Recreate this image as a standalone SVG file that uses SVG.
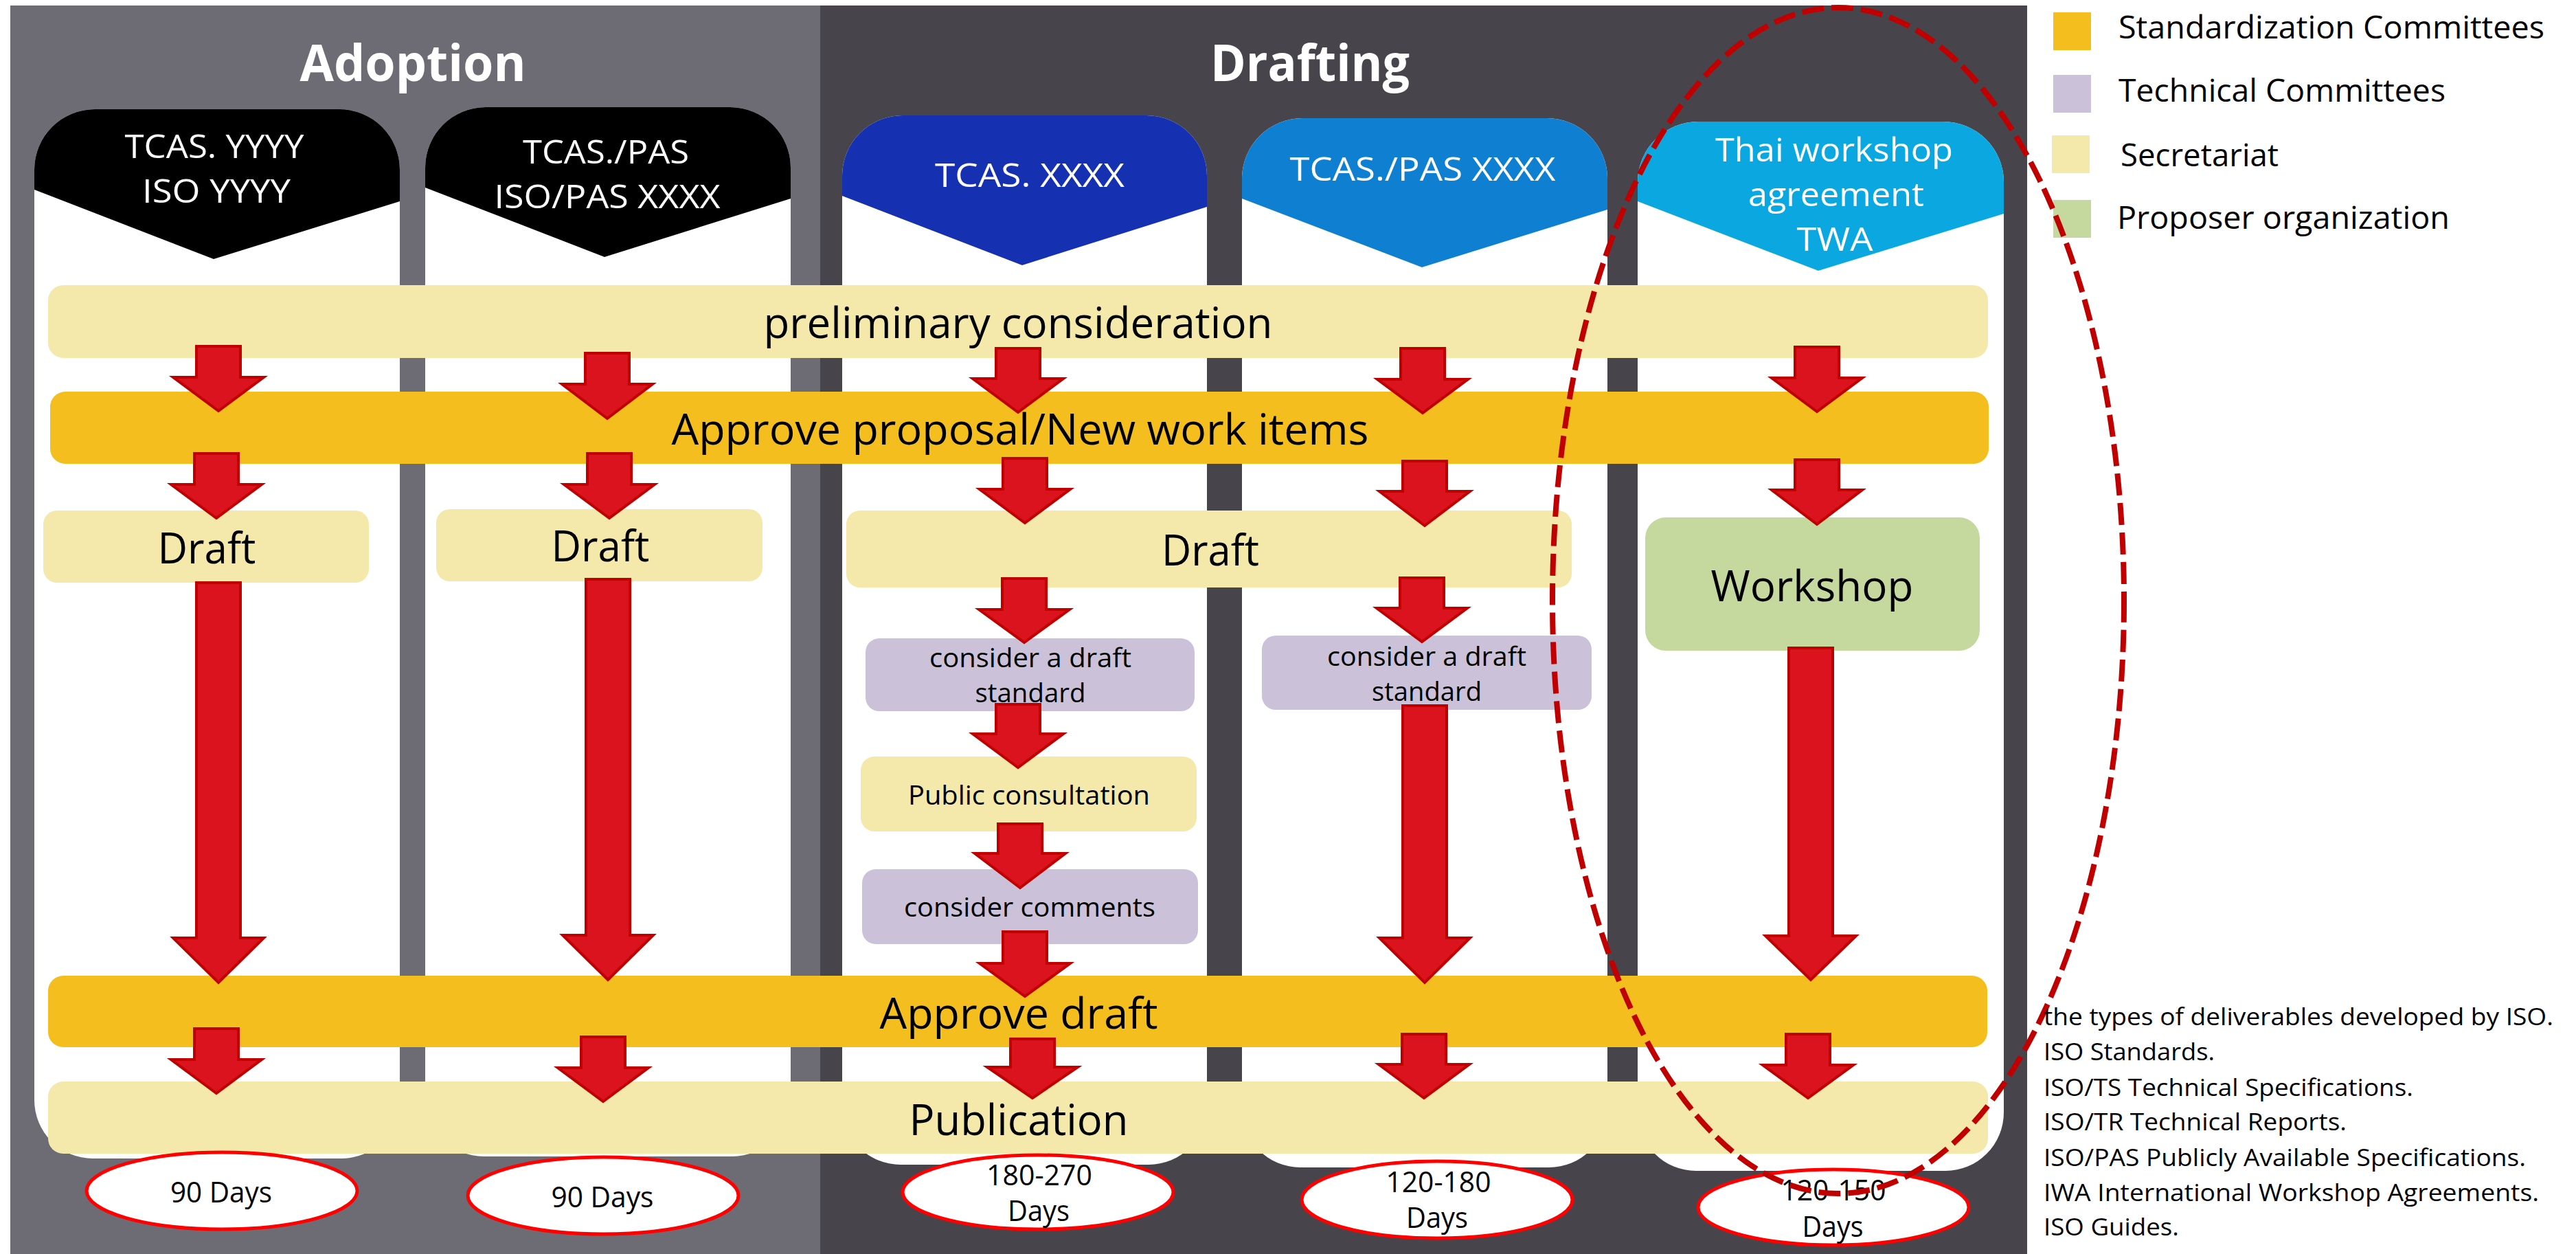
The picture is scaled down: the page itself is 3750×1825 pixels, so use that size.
<svg xmlns="http://www.w3.org/2000/svg" width="3750" height="1825" viewBox="0 0 3750 1825">
<style>
text{font-family:"Open Sans","Noto Sans",sans-serif;fill:#000}
.t{font-weight:700;font-size:74px;fill:#fff;text-anchor:middle}
.h{font-size:48px;fill:#fff;text-anchor:middle}
.lg{font-size:46px}
.bar{font-size:62px;text-anchor:middle}
.sm{font-size:38px;text-anchor:middle}
.dy{font-size:42px;text-anchor:middle}
.ls{font-size:35px}
.card{fill:#fff}
.sec{fill:#f4e8aa}
.sc{fill:#f4be1f}
.tc{fill:#cbc2da}
.po{fill:#c5d89d}
.arr{fill:#da131e;stroke:#c00000;stroke-width:4;stroke-linejoin:miter}
.days{fill:#fff;stroke:#ff0000;stroke-width:5}
</style>
<defs>
<path id="leg" d="M0 0h55v55h-55z"/>
</defs>
<rect width="3750" height="1825" fill="#fff"/>
<g id="panel-adoption">
<rect x="15" y="8" width="1179" height="1817" fill="#6d6b74"/>
<text class="t" x="601" y="118" textLength="329" lengthAdjust="spacingAndGlyphs">Adoption</text>
</g>
<g id="panel-drafting">
<rect x="1194" y="8" width="1757" height="1817" fill="#48444b"/>
<text class="t" x="1907" y="118" textLength="290" lengthAdjust="spacingAndGlyphs">Drafting</text>
</g>
<g id="col1">
<path class="card" d="M50 247A88 88 0 0 1 138 159H494A88 88 0 0 1 582 247V1601A85 85 0 0 1 497 1686H135A85 85 0 0 1 50 1601Z"/>
<path fill="#000" d="M50 247A88 88 0 0 1 138 159H494A88 88 0 0 1 582 247V293L311 377L50 276Z"/>
<text class="h" x="312" y="230" textLength="261" lengthAdjust="spacingAndGlyphs">TCAS. YYYY</text>
<text class="h" x="315" y="295" textLength="216" lengthAdjust="spacingAndGlyphs">ISO YYYY</text>
</g>
<g id="col2">
<path class="card" d="M619 244A88 88 0 0 1 707 156H1063A88 88 0 0 1 1151 244V1598A85 85 0 0 1 1066 1683H704A85 85 0 0 1 619 1598Z"/>
<path fill="#000" d="M619 244A88 88 0 0 1 707 156H1063A88 88 0 0 1 1151 244V289L880 374L619 273Z"/>
<text class="h" x="882" y="238" textLength="242" lengthAdjust="spacingAndGlyphs">TCAS./PAS</text>
<text class="h" x="884" y="303" textLength="329" lengthAdjust="spacingAndGlyphs">ISO/PAS XXXX</text>
</g>
<g id="col3">
<path class="card" d="M1226 256A88 88 0 0 1 1314 168H1669A88 88 0 0 1 1757 256V1610A85 85 0 0 1 1672 1695H1311A85 85 0 0 1 1226 1610Z"/>
<path fill="#1530b1" d="M1226 256A88 88 0 0 1 1314 168H1669A88 88 0 0 1 1757 256V301L1488 386L1226 285Z"/>
<text class="h" x="1499" y="272" textLength="276" lengthAdjust="spacingAndGlyphs">TCAS. XXXX</text>
</g>
<g id="col4">
<path class="card" d="M1808 260A88 88 0 0 1 1896 172H2252A88 88 0 0 1 2340 260V1614A85 85 0 0 1 2255 1699H1893A85 85 0 0 1 1808 1614Z"/>
<path fill="#0f7fd1" d="M1808 260A88 88 0 0 1 1896 172H2252A88 88 0 0 1 2340 260V305L2070 389L1808 289Z"/>
<text class="h" x="2071" y="263" textLength="387" lengthAdjust="spacingAndGlyphs">TCAS./PAS XXXX</text>
</g>
<g id="col5">
<path class="card" d="M2384 265A88 88 0 0 1 2472 177H2829A88 88 0 0 1 2917 265V1619A85 85 0 0 1 2832 1704H2469A85 85 0 0 1 2384 1619Z"/>
<path fill="#0aa7e1" d="M2384 265A88 88 0 0 1 2472 177H2829A88 88 0 0 1 2917 265V311L2647 394L2384 293Z"/>
<text class="h" x="2670" y="235" textLength="346" lengthAdjust="spacingAndGlyphs">Thai workshop</text>
<text class="h" x="2673" y="300" textLength="256" lengthAdjust="spacingAndGlyphs">agreement</text>
<text class="h" x="2671" y="365" textLength="111" lengthAdjust="spacingAndGlyphs">TWA</text>
</g>
<g id="legend">
<use href="#leg" class="sc" x="2989" y="18"/>
<use href="#leg" class="tc" x="2989" y="109"/>
<use href="#leg" class="sec" x="2987" y="197"/>
<use href="#leg" class="po" x="2989" y="291"/>
<text class="lg" x="3084" y="56" textLength="620" lengthAdjust="spacingAndGlyphs">Standardization Committees</text>
<text class="lg" x="3084" y="148" textLength="476" lengthAdjust="spacingAndGlyphs">Technical Committees</text>
<text class="lg" x="3087" y="242" textLength="230" lengthAdjust="spacingAndGlyphs">Secretariat</text>
<text class="lg" x="3082" y="333" textLength="484" lengthAdjust="spacingAndGlyphs">Proposer organization</text>
</g>
<g id="preliminary">
<rect class="sec" x="70" y="415" width="2824" height="106" rx="22"/>
<text class="bar" x="1482" y="492" textLength="741" lengthAdjust="spacingAndGlyphs">preliminary consideration</text>
</g>
<g id="approve-proposal">
<rect class="sc" x="73" y="570" width="2822" height="105" rx="22"/>
<text class="bar" x="1485" y="647" textLength="1015" lengthAdjust="spacingAndGlyphs">Approve proposal/New work items</text>
</g>
<g id="draft1">
<rect class="sec" x="63" y="743" width="474" height="105" rx="20"/>
<text class="bar" x="301" y="820" textLength="143" lengthAdjust="spacingAndGlyphs">Draft</text>
</g>
<g id="draft2">
<rect class="sec" x="635" y="741" width="475" height="105" rx="20"/>
<text class="bar" x="874" y="817" textLength="143" lengthAdjust="spacingAndGlyphs">Draft</text>
</g>
<g id="draft3">
<rect class="sec" x="1232" y="743" width="1056" height="112" rx="20"/>
<text class="bar" x="1762" y="823" textLength="142" lengthAdjust="spacingAndGlyphs">Draft</text>
</g>
<g id="workshop">
<rect class="po" x="2395" y="753" width="487" height="194" rx="30"/>
<text class="bar" x="2638" y="875" textLength="295" lengthAdjust="spacingAndGlyphs">Workshop</text>
</g>
<g id="consider3">
<rect class="tc" x="1260" y="929" width="479" height="106" rx="20"/>
<text class="sm" x="1500" y="971" textLength="294" lengthAdjust="spacingAndGlyphs">consider a draft</text>
<text class="sm" x="1500" y="1022" textLength="161" lengthAdjust="spacingAndGlyphs">standard</text>
</g>
<g id="consider4">
<rect class="tc" x="1837" y="925" width="480" height="108" rx="20"/>
<text class="sm" x="2077" y="969" textLength="290" lengthAdjust="spacingAndGlyphs">consider a draft</text>
<text class="sm" x="2077" y="1020" textLength="160" lengthAdjust="spacingAndGlyphs">standard</text>
</g>
<g id="public">
<rect class="sec" x="1253" y="1101" width="489" height="109" rx="20"/>
<text class="sm" x="1498" y="1171" textLength="352" lengthAdjust="spacingAndGlyphs">Public consultation</text>
</g>
<g id="comments">
<rect class="tc" x="1255" y="1265" width="489" height="109" rx="20"/>
<text class="sm" x="1499" y="1334" textLength="366" lengthAdjust="spacingAndGlyphs">consider comments</text>
</g>
<g id="approve-draft">
<rect class="sc" x="70" y="1420" width="2823" height="104" rx="22"/>
<text class="bar" x="1483" y="1497" textLength="405" lengthAdjust="spacingAndGlyphs">Approve draft</text>
</g>
<g id="publication">
<rect class="sec" x="70" y="1574" width="2824" height="105" rx="22"/>
<text class="bar" x="1483" y="1652" textLength="319" lengthAdjust="spacingAndGlyphs">Publication</text>
</g>
<g id="connectors">
<polygon class="arr" points="286,504 350,504 350,549 384,549 318,598 252,549 286,549"/>
<polygon class="arr" points="283,660 347,660 347,705 381,705 315,754 249,705 283,705"/>
<polygon class="arr" points="286,848 350,848 350,1365 384,1365 318,1430 252,1365 286,1365"/>
<polygon class="arr" points="283,1497 347,1497 347,1542 381,1542 315,1591 249,1542 283,1542"/>
<polygon class="arr" points="852,514 916,514 916,559 950,559 884,609 818,559 852,559"/>
<polygon class="arr" points="855,660 919,660 919,705 953,705 887,754 821,705 855,705"/>
<polygon class="arr" points="853,843 917,843 917,1361 951,1361 885,1426 819,1361 853,1361"/>
<polygon class="arr" points="846,1509 910,1509 910,1554 944,1554 878,1603 812,1554 846,1554"/>
<polygon class="arr" points="1450,507 1514,507 1514,551 1548,551 1482,600 1416,551 1450,551"/>
<polygon class="arr" points="1460,667 1524,667 1524,712 1558,712 1492,761 1426,712 1460,712"/>
<polygon class="arr" points="1459,842 1523,842 1523,887 1557,887 1491,935 1425,887 1459,887"/>
<polygon class="arr" points="1450,1025 1514,1025 1514,1068 1548,1068 1482,1117 1416,1068 1450,1068"/>
<polygon class="arr" points="1453,1199 1517,1199 1517,1242 1551,1242 1485,1292 1419,1242 1453,1242"/>
<polygon class="arr" points="1460,1356 1524,1356 1524,1402 1558,1402 1492,1450 1426,1402 1460,1402"/>
<polygon class="arr" points="1471,1512 1535,1512 1535,1553 1569,1553 1503,1598 1437,1553 1471,1553"/>
<polygon class="arr" points="2039,507 2103,507 2103,552 2137,552 2071,601 2005,552 2039,552"/>
<polygon class="arr" points="2042,671 2106,671 2106,715 2140,715 2074,765 2008,715 2042,715"/>
<polygon class="arr" points="2038,841 2102,841 2102,885 2136,885 2070,934 2004,885 2038,885"/>
<polygon class="arr" points="2042,1027 2106,1027 2106,1365 2140,1365 2074,1430 2008,1365 2042,1365"/>
<polygon class="arr" points="2041,1505 2105,1505 2105,1549 2139,1549 2073,1598 2007,1549 2041,1549"/>
<polygon class="arr" points="2613,505 2677,505 2677,550 2711,550 2645,599 2579,550 2613,550"/>
<polygon class="arr" points="2613,669 2677,669 2677,713 2711,713 2645,763 2579,713 2613,713"/>
<polygon class="arr" points="2604,943 2668,943 2668,1362 2702,1362 2636,1426 2570,1362 2604,1362"/>
<polygon class="arr" points="2600,1505 2664,1505 2664,1550 2698,1550 2632,1598 2566,1550 2600,1550"/>
</g>
<g id="days1">
<ellipse class="days" cx="323" cy="1733" rx="197" ry="56"/>
<text class="dy" x="322" y="1750" textLength="148" lengthAdjust="spacingAndGlyphs">90 Days</text>
</g>
<g id="days2">
<ellipse class="days" cx="878" cy="1740" rx="197" ry="56"/>
<text class="dy" x="877" y="1757" textLength="149" lengthAdjust="spacingAndGlyphs">90 Days</text>
</g>
<g id="days3">
<ellipse class="days" cx="1511" cy="1735" rx="197" ry="54"/>
<text class="dy" x="1513" y="1725" textLength="154" lengthAdjust="spacingAndGlyphs">180-270</text>
<text class="dy" x="1512" y="1777" textLength="90" lengthAdjust="spacingAndGlyphs">Days</text>
</g>
<g id="days4">
<ellipse class="days" cx="2092" cy="1746" rx="197" ry="56"/>
<text class="dy" x="2094" y="1735" textLength="153" lengthAdjust="spacingAndGlyphs">120-180</text>
<text class="dy" x="2092" y="1787" textLength="90" lengthAdjust="spacingAndGlyphs">Days</text>
</g>
<g id="days5">
<ellipse class="days" cx="2669" cy="1757" rx="197" ry="55"/>
<text class="dy" x="2669" y="1747" textLength="153" lengthAdjust="spacingAndGlyphs">120-150</text>
<text class="dy" x="2668" y="1800" textLength="89" lengthAdjust="spacingAndGlyphs">Days</text>
</g>
<g id="twa-highlight">
<ellipse cx="2676" cy="874" rx="416" ry="863" fill="none" stroke="#c00000" stroke-width="8" stroke-dasharray="32 11"/>
</g>
<g id="deliverables">
<text class="ls" x="2975" y="1492" textLength="742" lengthAdjust="spacingAndGlyphs">the types of deliverables developed by ISO.</text>
<text class="ls" x="2975" y="1543" textLength="249" lengthAdjust="spacingAndGlyphs">ISO Standards.</text>
<text class="ls" x="2975" y="1595" textLength="538" lengthAdjust="spacingAndGlyphs">ISO/TS Technical Specifications.</text>
<text class="ls" x="2975" y="1645" textLength="441" lengthAdjust="spacingAndGlyphs">ISO/TR Technical Reports.</text>
<text class="ls" x="2975" y="1697" textLength="702" lengthAdjust="spacingAndGlyphs">ISO/PAS Publicly Available Specifications.</text>
<text class="ls" x="2975" y="1748" textLength="721" lengthAdjust="spacingAndGlyphs">IWA International Workshop Agreements.</text>
<text class="ls" x="2975" y="1798" textLength="197" lengthAdjust="spacingAndGlyphs">ISO Guides.</text>
</g>
</svg>
